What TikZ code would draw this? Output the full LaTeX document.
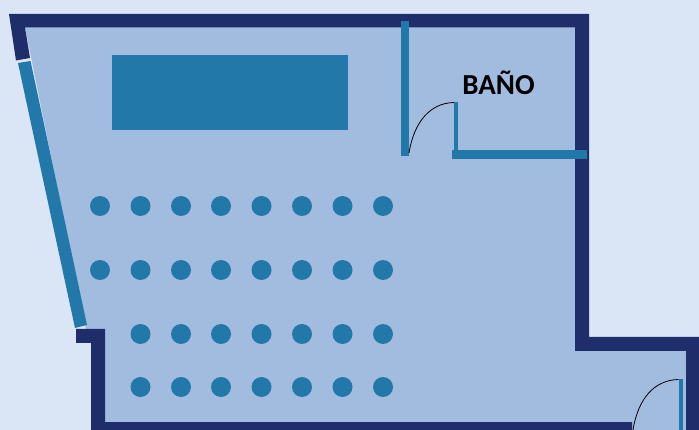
\documentclass[tikz,border=0pt]{standalone}
\usepackage{fontspec}
\setmainfont{Carlito}
\definecolor{paper}{HTML}{DAE5F5}
\definecolor{floorblue}{HTML}{A2BCE0}
\definecolor{wallblue}{HTML}{1F2E6B}
\definecolor{glassblue}{HTML}{2278A8}
\begin{document}
\begin{tikzpicture}[x=1pt, y=-1pt,
wall/.style = {fill=wallblue},
glass/.style = {fill=glassblue},
seat/.style = {fill=glassblue},
swing/.style = {draw=black, line width=0.8pt}]

\useasboundingbox (0,0) rectangle (699,430);
\fill [paper] (0,0) rectangle (699,430);
% floor
\fill [floorblue] (25,27) -- (575,27) -- (575,351) -- (686,351) -- (686,430) -- (91,430) -- (91,329) -- (86,329) -- cycle;

% outer walls
\fill [wall] (9,14) -- (589,14) -- (589,337) -- (699,337) -- (699,430) -- (686,430) -- (686,351) -- (575,351) -- (575,27.5) -- (25,27.5) -- (30,58) -- (16,60.5) -- cycle;
\fill [wall] (76,329) -- (105,329) -- (105,422) -- (632,422) -- (632,430) -- (91,430) -- (91,343) -- (76,343) -- cycle;

% window and inner walls
\fill [glass] (18,63) -- (30.5,61) -- (87,325) -- (75,328) -- cycle;
\fill [glass] (112,55) rectangle (348,130);
\fill [glass] (401,21) rectangle (409,156.5);
\fill [glass] (453.5,102) rectangle (458,151);
\fill [glass] (452,150.5) rectangle (587,159);
\fill [glass] (678.5,379) rectangle (683,430);

% doors
\draw [swing] (409,153) .. controls (414,122) and (430,103) .. (454,102.5);
\draw [swing] (633,430) .. controls (638,399) and (654,380) .. (678.5,379.5);

% seats
\foreach \row in {206,270}
  \foreach \col in {100,140.5,181,221,261.5,302,342.5,383}
    \fill [seat] (\col,\row) circle (10);
\foreach \row in {334,387}
  \foreach \col in {140.5,181,221,261.5,302,342.5,383}
    \fill [seat] (\col,\row) circle (10);

\node (bano) at (498.5,82.5) {\fontsize{29}{33}\selectfont\bfseries BAÑO};
\end{tikzpicture}
\end{document}
